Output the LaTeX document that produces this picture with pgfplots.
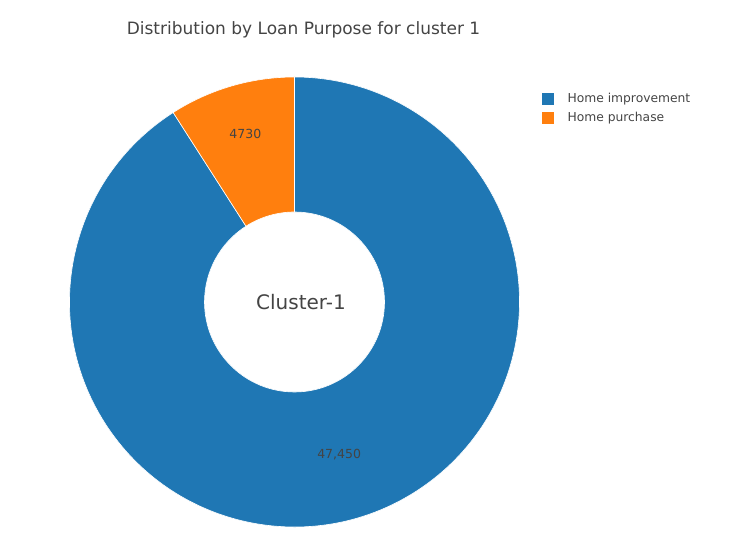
\documentclass[border=0pt]{standalone}
\usepackage{pgfplots}
\pgfplotsset{compat=1.18}
\usetikzlibrary{calc}
\usepackage{fontspec}
\setmainfont{DejaVu Sans}
\definecolor{cblue}{HTML}{1F77B4}
\definecolor{corange}{HTML}{FF7F0E}
\definecolor{txt}{HTML}{444444}

% slice values
\def\vimp{47450}
\def\vpur{4730}

\begin{document}
\begin{tikzpicture}
\pgfkeys{/pgf/fpu=true, /pgf/fpu/output format=fixed}
\pgfmathsetmacro{\apur}{360*\vpur/(\vimp+\vpur)}
\pgfkeys{/pgf/fpu=false}
% purchase slice: 90 -> 90+apur ; improvement: 90+apur -> 450
\pgfmathsetmacro{\aa}{90+\apur}
\pgfmathsetmacro{\midpur}{90+\apur/2}
\pgfmathsetmacro{\midimp}{(\aa+450)/2}
\begin{axis}[
    x=1pt, y=1pt,
    xmin=0, xmax=731, ymin=0, ymax=535,
    scale only axis,
    hide axis,
    clip=false,
]
\path (axis cs:0,0) rectangle (axis cs:731,535);
% improvement slice
\fill[cblue, draw=white, line width=0.6pt]
  (axis cs:294.5,233) ++(\aa:225pt) arc[start angle=\aa, end angle=450, radius=225pt]
  -- ++(-90:135pt) arc[start angle=450, end angle=\aa, radius=90pt] -- cycle;
% purchase slice
\fill[corange, draw=white, line width=0.6pt]
  (axis cs:294.5,233) ++(90:225pt) arc[start angle=90, end angle=\aa, radius=225pt]
  -- ($(axis cs:294.5,233)+(\aa:90pt)$) arc[start angle=\aa, end angle=90, radius=90pt] -- cycle;
% slice labels
\node[txt, font=\fontsize{12.5}{14}\selectfont] at ($(axis cs:294.5,233)+(\midpur:175pt)$) {4730};
\node[txt, font=\fontsize{12.5}{14}\selectfont] at ($(axis cs:294.5,233)+(\midimp:159pt)$) {47,450};
% centre text
\node[txt, font=\fontsize{20}{24}\selectfont] at (axis cs:301,233) {Cluster-1};
% title
\node[txt, font=\fontsize{17}{20}\selectfont] at (axis cs:303.5,505) {Distribution by Loan Purpose for cluster 1};
% legend
\fill[cblue] (axis cs:542,430) rectangle (axis cs:554,442);
\fill[corange] (axis cs:542,411) rectangle (axis cs:554,423);
\node[txt, anchor=west, font=\fontsize{12.3}{14}\selectfont] at (axis cs:564,436) {Home improvement};
\node[txt, anchor=west, font=\fontsize{12.3}{14}\selectfont] at (axis cs:564,417) {Home purchase};
\end{axis}
\end{tikzpicture}
\end{document}
